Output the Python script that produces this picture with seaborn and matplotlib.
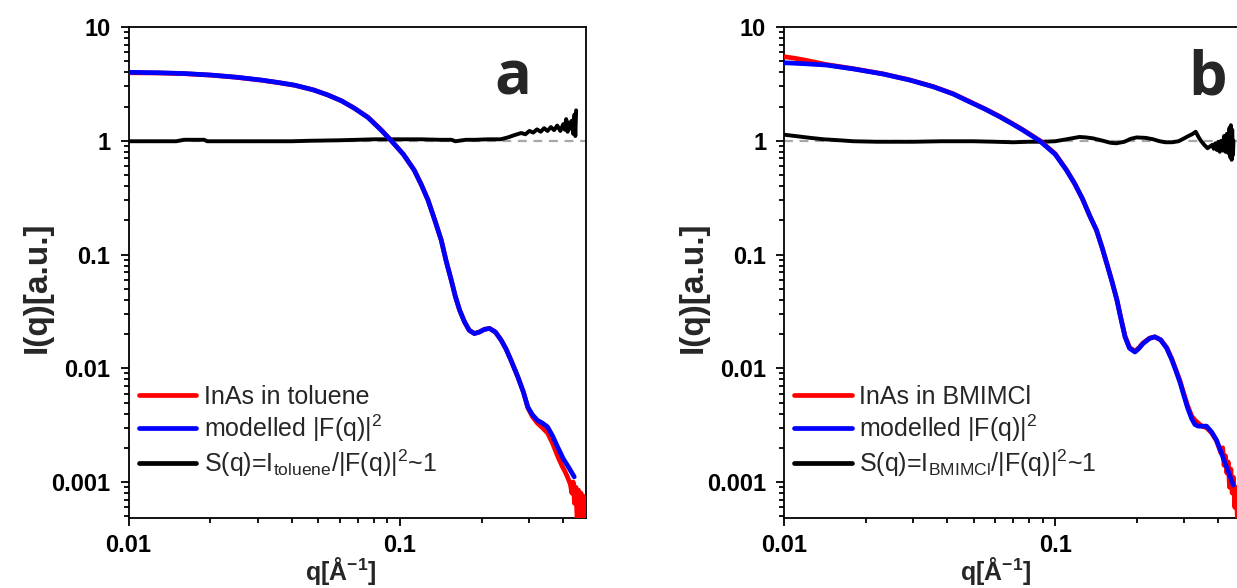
import matplotlib
matplotlib.use("Agg")
import matplotlib.pyplot as plt
from matplotlib.lines import Line2D
from matplotlib.ticker import FixedLocator, FixedFormatter, LogLocator, NullFormatter
import seaborn as sns

# ---------------- data ----------------
# Panel a: InAs in toluene
qa_fit = [0.0100, 0.0130, 0.0160, 0.0202, 0.0250, 0.0308, 0.0360, 0.0410, 0.0480, 0.0544,
          0.0610, 0.0680, 0.0763, 0.0850, 0.0930, 0.1030, 0.1130, 0.1200, 0.1270, 0.1345,
          0.1420, 0.1480, 0.1545, 0.1600, 0.1660, 0.1730, 0.1800, 0.1880, 0.1960, 0.2050,
          0.2140, 0.2250, 0.2360, 0.2460, 0.2565, 0.2720, 0.2850, 0.2960, 0.3080, 0.3210,
          0.3350, 0.3500, 0.3650, 0.3810, 0.4000, 0.4200, 0.4390]
Ia_fit = [4.00, 3.96, 3.90, 3.78, 3.62, 3.42, 3.24, 3.08, 2.80, 2.52,
          2.24, 1.93, 1.60, 1.25, 1.00, 0.76, 0.55, 0.41, 0.30, 0.20,
          0.134, 0.088, 0.060, 0.043, 0.0324, 0.0256, 0.0216, 0.0202, 0.0208, 0.0220,
          0.0224, 0.0208, 0.0177, 0.0148, 0.0118, 0.0084, 0.0062, 0.00457, 0.00390, 0.00349,
          0.00330, 0.00305, 0.00255, 0.00204, 0.00160, 0.00133, 0.00111]

qa_dat = [0.0100, 0.0130, 0.0160, 0.0202, 0.0250, 0.0308, 0.0360, 0.0410, 0.0480, 0.0544,
          0.0610, 0.0680, 0.0763, 0.0850, 0.0930, 0.1030, 0.1130, 0.1200, 0.1270, 0.1345,
          0.1420, 0.1480, 0.1545, 0.1600, 0.1660, 0.1730, 0.1800, 0.1880, 0.1960, 0.2050,
          0.2140, 0.2250, 0.2360, 0.2460, 0.2565, 0.2720, 0.2850, 0.2960, 0.3080, 0.3210,
          0.3350, 0.3500, 0.3650, 0.3810, 0.3950, 0.4050, 0.4150, 0.4250, 0.4300, 0.4350,
          0.4400, 0.4450, 0.4500, 0.4550, 0.4600, 0.4650, 0.4700, 0.4750, 0.4780]
Ia_dat = [3.96, 3.94, 3.89, 3.77, 3.61, 3.41, 3.23, 3.07, 2.80, 2.52,
          2.24, 1.93, 1.61, 1.26, 1.00, 0.76, 0.55, 0.41, 0.30, 0.20,
          0.134, 0.088, 0.060, 0.043, 0.0324, 0.0256, 0.0216, 0.0202, 0.0208, 0.0220,
          0.0224, 0.0208, 0.0177, 0.0148, 0.0118, 0.0084, 0.0062, 0.00450, 0.00375, 0.00330,
          0.00300, 0.00270, 0.00220, 0.00170, 0.00140, 0.00125, 0.00110, 0.00095, 0.00080, 0.00100,
          0.00065, 0.00090, 0.00045, 0.00085, 0.00040, 0.00080, 0.00035, 0.00075, 0.00030]

qa_s = [0.0100, 0.0150, 0.0160, 0.0190, 0.0195, 0.0300, 0.0400, 0.0466, 0.0600, 0.0700,
        0.0800, 0.1000, 0.1200, 0.1400, 0.1550, 0.1600, 0.1650, 0.1750, 0.1900, 0.2100,
        0.2350, 0.2500, 0.2640, 0.2800, 0.2900, 0.3000, 0.3100, 0.3200, 0.3300, 0.3400,
        0.3500, 0.3600, 0.3700, 0.3800, 0.3900, 0.4000, 0.4050, 0.4100, 0.4150, 0.4200,
        0.4250, 0.4300, 0.4350, 0.4400, 0.4430, 0.4460]
Sa = [0.99, 0.99, 1.02, 1.02, 0.99, 0.99, 0.99, 1.00, 1.01, 1.02,
      1.03, 1.03, 1.03, 1.02, 1.02, 0.99, 1.00, 1.02, 1.02, 1.03,
      1.03, 1.07, 1.12, 1.17, 1.14, 1.22, 1.18, 1.26, 1.20, 1.29,
      1.22, 1.32, 1.24, 1.36, 1.22, 1.40, 1.25, 1.55, 1.20, 1.45,
      1.28, 1.50, 1.15, 1.70, 1.10, 1.85]

# Panel b: InAs in BMIMCl
qb_fit = [0.0100, 0.0120, 0.0143, 0.0180, 0.0232, 0.0290, 0.0354, 0.0420, 0.0483, 0.0550,
          0.0623, 0.0690, 0.0760, 0.0880, 0.1000, 0.1100, 0.1180, 0.1260, 0.1340, 0.1420,
          0.1490, 0.1550, 0.1620, 0.1690, 0.1750, 0.1810, 0.1880, 0.1970, 0.2040, 0.2110,
          0.2230, 0.2330, 0.2450, 0.2580, 0.2690, 0.2790, 0.2890, 0.2970, 0.3080, 0.3190,
          0.3280, 0.3370, 0.3480, 0.3620, 0.3780, 0.3940, 0.4090, 0.4240, 0.4390, 0.4540]
Ib_fit = [4.85, 4.75, 4.63, 4.28, 3.86, 3.42, 2.99, 2.58, 2.20, 1.90,
          1.63, 1.42, 1.24, 0.99, 0.76, 0.552, 0.42, 0.31, 0.22, 0.164,
          0.115, 0.0835, 0.058, 0.0398, 0.0270, 0.0189, 0.0150, 0.0139, 0.0150, 0.0165,
          0.0183, 0.0189, 0.0178, 0.0150, 0.0120, 0.0095, 0.0075, 0.0060, 0.0045, 0.0036,
          0.0032, 0.0031, 0.0031, 0.0031, 0.00275, 0.00233, 0.00185, 0.00146, 0.00118, 0.00094]

qb_dat = [0.0100, 0.0110, 0.0120, 0.0143, 0.0180, 0.0232, 0.0290, 0.0354, 0.0420, 0.0483,
          0.0550, 0.0623, 0.0690, 0.0760, 0.0880, 0.1000, 0.1100, 0.1180, 0.1260, 0.1340,
          0.1420, 0.1490, 0.1550, 0.1620, 0.1690, 0.1750, 0.1810, 0.1880, 0.1970, 0.2040,
          0.2110, 0.2230, 0.2330, 0.2450, 0.2580, 0.2690, 0.2790, 0.2890, 0.2970, 0.3080,
          0.3190, 0.3280, 0.3370, 0.3480, 0.3620, 0.3780, 0.3940, 0.4090, 0.4150, 0.4200,
          0.4250, 0.4300, 0.4350, 0.4400, 0.4450, 0.4500, 0.4550, 0.4600, 0.4650, 0.4700,
          0.4750, 0.4800]
Ib_dat = [5.48, 5.30, 5.10, 4.68, 4.30, 3.87, 3.43, 3.00, 2.59, 2.21,
          1.91, 1.64, 1.43, 1.25, 1.00, 0.77, 0.556, 0.42, 0.31, 0.22,
          0.164, 0.115, 0.0835, 0.058, 0.0398, 0.0272, 0.0192, 0.0153, 0.0141, 0.0152,
          0.0167, 0.0184, 0.0189, 0.0178, 0.0152, 0.0122, 0.0097, 0.0077, 0.0062, 0.0047,
          0.0038, 0.0035, 0.0033, 0.0031, 0.0030, 0.0027, 0.0023, 0.0018, 0.0020, 0.0014,
          0.0017, 0.0012, 0.0015, 0.0009, 0.0013, 0.0008, 0.0011, 0.0006, 0.0009, 0.0005,
          0.0007, 0.0005]

qb_s = [0.0100, 0.0110, 0.0125, 0.0140, 0.0160, 0.0180, 0.0220, 0.0300, 0.0380, 0.0400,
        0.0500, 0.0600, 0.0700, 0.0800, 0.0900, 0.1000, 0.1100, 0.1230, 0.1300, 0.1380,
        0.1500, 0.1600, 0.1680, 0.1800, 0.1900, 0.2000, 0.2160, 0.2300, 0.2430, 0.2550,
        0.2700, 0.2850, 0.2970, 0.3100, 0.3200, 0.3300, 0.3380, 0.3450, 0.3550, 0.3650,
        0.3700, 0.3800, 0.3850, 0.3900, 0.3950, 0.4000, 0.4050, 0.4100, 0.4150, 0.4200,
        0.4250, 0.4300, 0.4350, 0.4400, 0.4420, 0.4450, 0.4480, 0.4500, 0.4530, 0.4550]
Sb = [1.13, 1.10, 1.06, 1.03, 1.01, 0.99, 0.98, 0.98, 0.99, 0.99,
      0.99, 0.98, 0.97, 0.98, 0.98, 0.99, 1.03, 1.08, 1.07, 1.05,
      1.00, 0.96, 0.95, 0.98, 1.04, 1.07, 1.06, 1.03, 0.99, 0.97,
      0.97, 0.99, 1.04, 1.10, 1.14, 1.20, 1.08, 1.00, 0.92, 0.86,
      0.88, 0.92, 0.85, 0.95, 0.83, 0.98, 0.80, 1.00, 0.82, 1.10,
      0.80, 1.15, 0.78, 1.30, 0.72, 1.37, 0.68, 1.25, 0.75, 1.00]

y_ticks = [0.001, 0.01, 0.1, 1, 10]
y_tick_labels = ["0.001", "0.01", "0.1", "1", "10"]
x_ticks = [0.01, 0.1]
x_tick_labels = ["0.01", "0.1"]

legend_a = ["InAs in toluene", r"modelled |F(q)|$^{2}$", r"S(q)=I$_{toluene}$/|F(q)|$^{2}$~1"]
legend_b = ["InAs in BMIMCl", r"modelled |F(q)|$^{2}$", r"S(q)=I$_{BMIMCl}$/|F(q)|$^{2}$~1"]

# ---------------- style ----------------
sns.set_theme(style="ticks")
plt.rcParams["font.family"] = ["Liberation Sans", "DejaVu Sans"]
plt.rcParams["mathtext.default"] = "regular"
plt.rcParams["axes.edgecolor"] = "black"
plt.rcParams["xtick.color"] = "black"
plt.rcParams["ytick.color"] = "black"

W, H = 1237, 588
fig = plt.figure(figsize=(W / 100, H / 100), dpi=100)


def px_axes(l, t, r, b):
    return fig.add_axes([l / W, 1 - b / H, (r - l) / W, (b - t) / H])


def draw(ax, qd, Id, qf, If, qs, S, labels, letter, letter_x):
    ax.set_xscale("log")
    ax.set_yscale("log")
    ax.axhline(1, color="#a8a8a8", ls=(0, (4, 3)), lw=1.6, zorder=1)
    sns.lineplot(x=qs, y=S, ax=ax, color="black", lw=2.8, sort=False, estimator=None, zorder=2)
    sns.lineplot(x=qd, y=Id, ax=ax, color="#ff0000", lw=3.4, sort=False, estimator=None, zorder=3)
    sns.lineplot(x=qf, y=If, ax=ax, color="#0000ff", lw=3.4, sort=False, estimator=None, zorder=4)
    ax.set_xlim(0.01, 0.485)
    ax.set_ylim(0.00048, 10)
    ax.yaxis.set_major_locator(FixedLocator(y_ticks))
    ax.yaxis.set_major_formatter(FixedFormatter(y_tick_labels))
    ax.xaxis.set_major_locator(FixedLocator(x_ticks))
    ax.xaxis.set_major_formatter(FixedFormatter(x_tick_labels))
    for axis in (ax.xaxis, ax.yaxis):
        axis.set_minor_locator(LogLocator(base=10, subs=range(2, 10), numticks=30))
        axis.set_minor_formatter(NullFormatter())
    ax.tick_params(which="both", direction="out", width=1.3, top=False, right=False)
    ax.tick_params(which="major", length=6)
    ax.tick_params(which="minor", length=3.5)
    ax.tick_params(axis="y", which="major", pad=7)
    ax.tick_params(axis="x", which="major", pad=5)
    for lab in ax.get_xticklabels() + ax.get_yticklabels():
        lab.set_fontweight("bold")
        lab.set_fontsize(17)
    for sp in ax.spines.values():
        sp.set_linewidth(1.3)
        sp.set_color("black")
    ax.set_xlabel(r"q[Å$^{-1}$]", fontsize=18, fontweight="bold", labelpad=1)
    ax.xaxis.set_label_coords(0.463, -0.075, transform=ax.transAxes)
    ax.xaxis.label.set_va("top")
    ax.set_ylabel("I(q)[a.u.]", fontsize=24, fontweight="bold")
    ax.yaxis.set_label_coords(-0.165, 0.47)
    handles = [Line2D([], [], color="#ff0000", lw=3.4),
               Line2D([], [], color="#0000ff", lw=3.4),
               Line2D([], [], color="black", lw=3.4)]
    ax.legend(handles, labels, loc="center left", bbox_to_anchor=(0.022, 0.176),
              frameon=False, fontsize=18, handlelength=2.3, handletextpad=0.3,
              labelspacing=0.15, borderpad=0, borderaxespad=0)
    ax.text(letter_x, 0.862, letter, transform=ax.transAxes, ha="left", va="baseline",
            fontsize=44, fontweight="bold", family=["Open Sans", "DejaVu Sans"])


axA = px_axes(128.5, 27, 586, 518.3)
axB = px_axes(784.2, 27, 1241, 518.3)
draw(axA, qa_dat, Ia_dat, qa_fit, Ia_fit, qa_s, Sa, legend_a, "a", 0.800)
draw(axB, qb_dat, Ib_dat, qb_fit, Ib_fit, qb_s, Sb, legend_b, "b", 0.885)

fig.savefig("out.png", dpi=100)
